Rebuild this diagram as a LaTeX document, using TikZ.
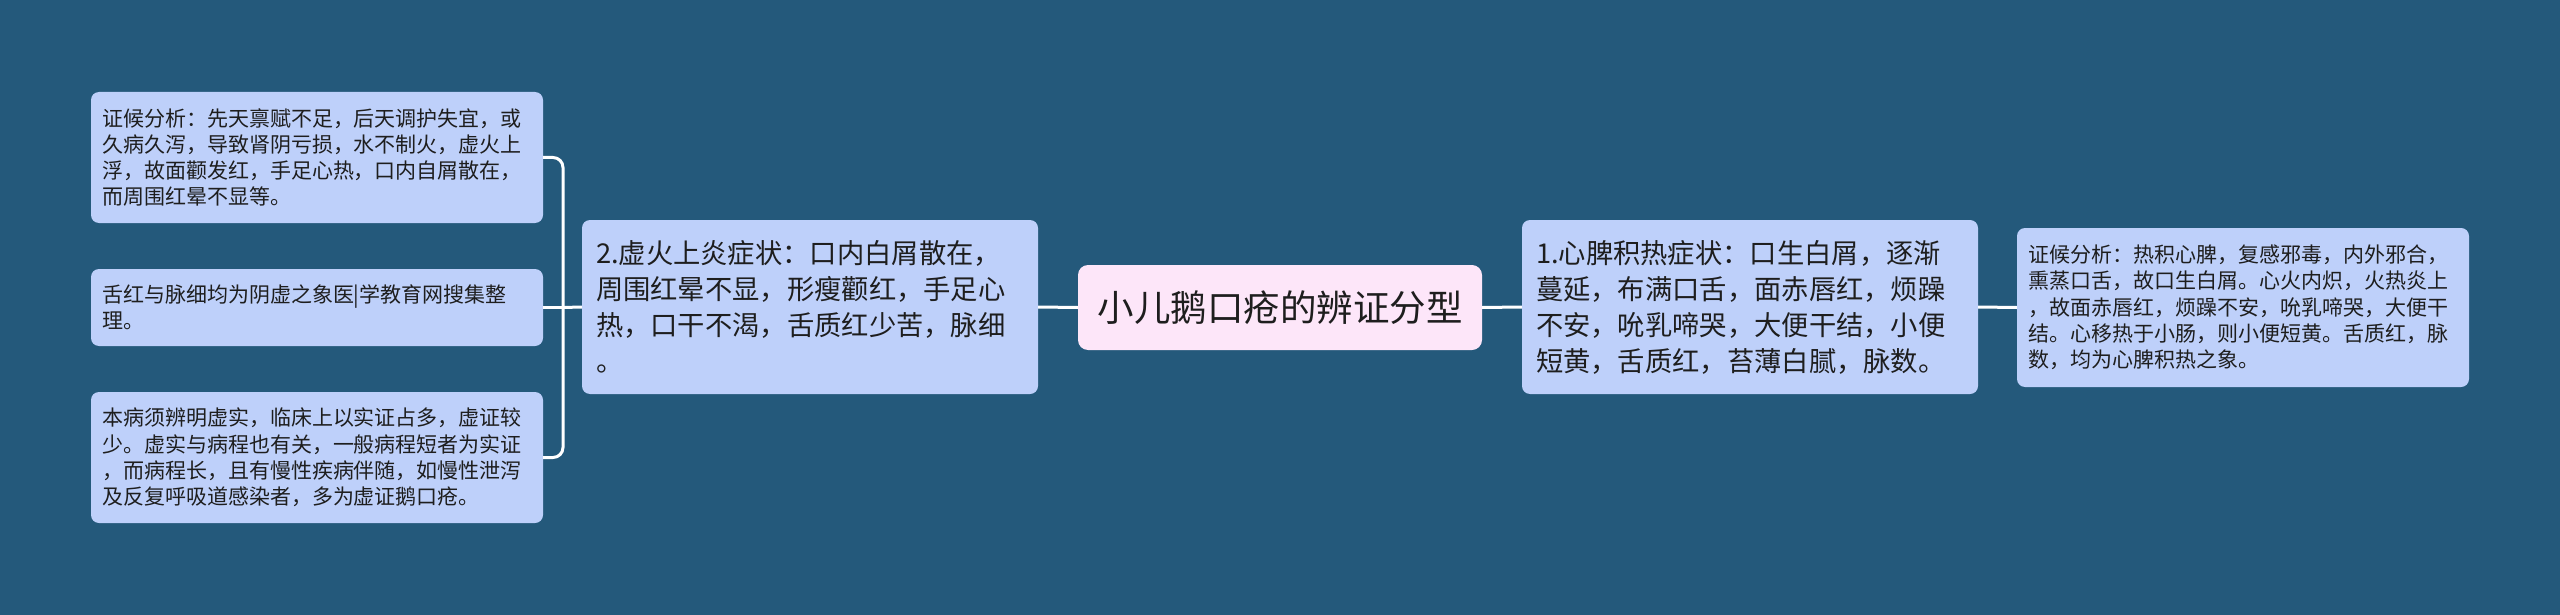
\documentclass[tikz,border=0pt]{standalone}
\usepackage{fontspec}
\setmainfont{Noto Sans CJK SC}
\definecolor{bgc}{HTML}{24597B}
\definecolor{boxc}{HTML}{BED0FA}
\definecolor{rootc}{HTML}{FDE6F9}
\definecolor{txtc}{HTML}{1E1E1E}
\begin{document}
\begin{tikzpicture}[x=1pt,y=-1pt,
  box/.style={fill=boxc,rounded corners=8pt,text=txtc,align=left,anchor=center},
  leaf/.style={box,inner xsep=11pt,inner ysep=0pt,text width=430pt,font=\fontsize{21}{26.3}\selectfont},
  mainbox/.style={box,inner xsep=14pt,inner ysep=0pt,text width=428pt,minimum height=174pt,font=\fontsize{27.3}{36}\selectfont},
  root/.style={fill=rootc,rounded corners=10pt,text=txtc,minimum width=404pt,minimum height=85pt,inner sep=0pt,font=\fontsize{36.5}{40}\selectfont},
  link/.style={draw=white,line width=3pt}]
\useasboundingbox (0,0) rectangle (2560,615);
\fill[bgc] (0,0) rectangle (2560,615);

\node[root] (c) at (1280,307.5) {小儿鹅口疮的辨证分型};

\node[mainbox] (lm) at (810,307) {2.虚火上炎症状：口内白屑散在，\\周围红晕不显，形瘦颧红，手足心\\热，口干不渴，舌质红少苦，脉细\\。};
\node[mainbox] (rm) at (1750,307) {1.心脾积热症状：口生白屑，逐渐\\蔓延，布满口舌，面赤唇红，烦躁\\不安，吮乳啼哭，大便干结，小便\\短黄，舌质红，苔薄白腻，脉数。};

\node[leaf,minimum height=131pt] (l1) at (317,157.5) {证候分析：先天禀赋不足，后天调护失宜，或\\久病久泻，导致肾阴亏损，水不制火，虚火上\\浮，故面颧发红，手足心热，口内自屑散在，\\而周围红晕不显等。};
\node[leaf,minimum height=77pt] (l2) at (317,307.5) {舌红与脉细均为阴虚之象医|学教育网搜集整\\理。};
\node[leaf,minimum height=131pt] (l3) at (317,457.5) {本病须辨明虚实，临床上以实证占多，虚证较\\少。虚实与病程也有关，一般病程短者为实证\\，而病程长，且有慢性疾病伴随，如慢性泄泻\\及反复呼吸道感染者，多为虚证鹅口疮。};

\node[leaf,minimum height=159pt] (rl) at (2243,307.5) {证候分析：热积心脾，复感邪毒，内外邪合，\\熏蒸口舌，故口生白屑。心火内炽，火热炎上\\，故面赤唇红，烦躁不安，吮乳啼哭，大便干\\结。心移热于小肠，则小便短黄。舌质红，脉\\数，均为心脾积热之象。};

\coordinate (jl) at (563,307.5);
\draw[link] (c.west) -- (lm.west -| lm.east);
\draw[link] (c.east) -- (rm.west);
\draw[link] (rm.east) -- (rl.west);
\draw[link] (lm.west) -- (jl);
\draw[link] (l2.east) -- (jl);
\draw[link,rounded corners=10pt] (l1.east) -| (jl) |- (l3.east);
\end{tikzpicture}
\end{document}
